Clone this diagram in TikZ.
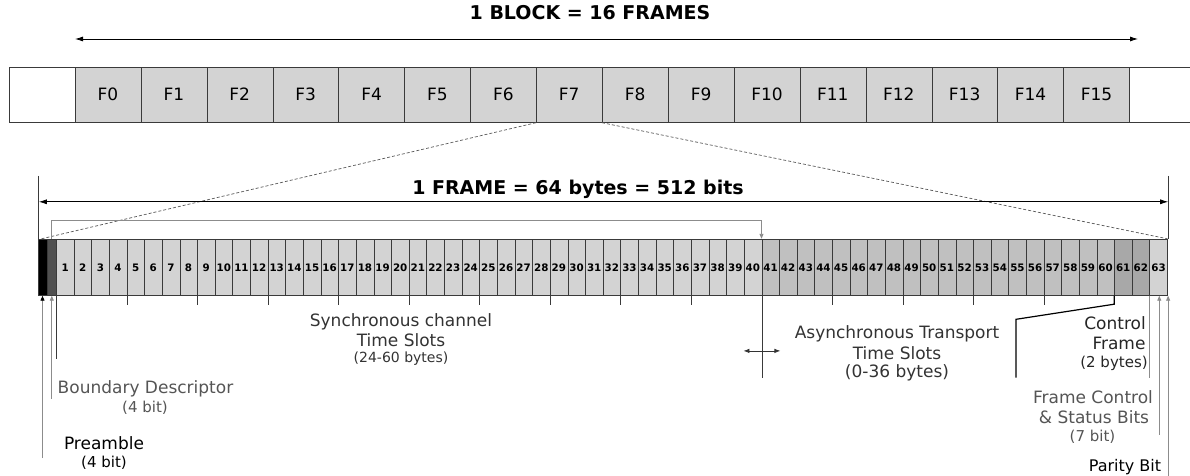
\documentclass[tikz,border=0pt]{standalone}
\usepackage{fontspec}
\setmainfont{DejaVu Sans}
\usetikzlibrary{arrows.meta}
\newcommand{\fsz}[1]{\fontsize{#1}{#1}\selectfont}
\definecolor{cellgray}{HTML}{D3D3D3}
\definecolor{midgray}{HTML}{C0C0C0}
\definecolor{darkcell}{HTML}{A8A8A8}
\definecolor{bdgray}{HTML}{505050}
\definecolor{linegray}{HTML}{8C8C8C}
\definecolor{txtgray}{HTML}{555555}
\definecolor{txtdark}{HTML}{333333}
\definecolor{edge}{HTML}{3A3A3A}
\begin{document}
\begin{tikzpicture}[x=1pt,y=-1pt,
  fcell/.style={draw=edge, fill=cellgray, minimum width=65.9pt, minimum height=55.5pt, inner sep=0pt, font=\fsz{17}, text height=12.4pt, text depth=0pt},
  bcell/.style={draw=edge, minimum width=17.635pt, minimum height=56.5pt, inner sep=0pt, font=\bfseries\fsz{10.3}, text height=7.5pt, text depth=0pt},
  bigarrow/.style={draw=black, line width=0.8pt, {Latex[length=8pt,width=5pt]}-{Latex[length=8pt,width=5pt]}},
  garrow/.style={draw=linegray, line width=0.9pt, -{Triangle[length=5pt,width=4pt]}},
  parrow/.style={draw=linegray, line width=0.9pt, -{Triangle[length=5pt,width=4pt,fill=black,color=black]}},
  gline/.style={draw=linegray, line width=0.9pt},
  bline/.style={draw=edge, line width=0.8pt},
  tick/.style={draw=edge, line width=0.8pt},
  zoomline/.style={draw=black!65, line width=0.7pt, densely dashed},
  lbl/.style={anchor=base, inner sep=0pt, font=\fsz{17}},
  sublbl/.style={anchor=base, inner sep=0pt, font=\fsz{15}},
  titlelbl/.style={anchor=base, inner sep=0pt, font=\bfseries\fsz{19}}
]
\clip (0,0) rectangle (1190,476);
\fill[white] (0,0) rectangle (1190,476);

% ---------- block ----------
\node[titlelbl] (blocktitle) at (590,20) {1 BLOCK = 16 FRAMES};
\coordinate (blockL) at (75,39);
\coordinate (blockR) at (1138,39);
\draw[bigarrow] (blockL) -- (blockR);

\draw[draw=edge, line width=0.9pt] (9,67) rectangle (1200,122.5);
\foreach \i in {0,...,15}{
  \node[fcell] (f\i) at ({75+(\i+0.5)*65.9},94.75) {F\i};
}

% ---------- frame ----------
\node[bcell, fill=black, minimum width=9.6pt] (pre) at (42.5,267.25) {};
\node[bcell, fill=bdgray, minimum width=9pt] (bd) at (51.8,267.25) {};
\foreach \i in {1,...,63}{
  \ifnum\i<41 \def\cc{cellgray}\else\ifnum\i<61 \def\cc{midgray}\else\ifnum\i<63 \def\cc{darkcell}\else\def\cc{cellgray}\fi\fi\fi
  \node[bcell, fill=\cc] (c\i) at ({56.3+(\i-0.5)*17.635},267.25) {\i};
}

% zoom lines
\draw[zoomline] (f7.south west) -- ([xshift=4pt]pre.north west);
\draw[zoomline] (f8.south west) -- (c63.north east);

% frame dimension
\node[titlelbl] (frametitle) at (578,194) {1 FRAME = 64 bytes = 512 bits};
\path (pre.north west) ++(1.3,-63) coordinate (fl);
\path (c63.north east) ++(0.7,-63) coordinate (fr);
\draw[bline] (fl) -- (fl |- pre.north);
\draw[bline] (fr) -- (fr |- c63.north);
\path (fl) ++(0,26) coordinate (fal);
\path (fr) ++(0,26) coordinate (far);
\draw[bigarrow] (fal) -- (far);

% boundary bracket above
\path (bd.north) ++(0,-18) coordinate (g1);
\coordinate (g2) at (g1 -| c41.north west);
\draw[garrow] (bd.north) -- (g1) -- (g2) -- (c41.north west);

% ticks
\foreach \k in {4,8,...,36,44,48,52,56}{
  \draw[tick] (c\k.south east) -- ++(0,9);
}

% sync / async separation
\path (c1.south west) ++(0,63.5) coordinate (syncL);
\draw[bline] (c1.south west) -- (syncL);
\path (c40.south east) ++(0,82.2) coordinate (asyncL);
\draw[bline] (c40.south east) -- (asyncL);
\path (c40.south east) ++(-18.5,55.2) coordinate (dl);
\path (c40.south east) ++(18.5,55.2) coordinate (dr);
\draw[draw=txtdark, line width=0.8pt, {Latex[length=6pt,width=4.5pt]}-{Latex[length=6pt,width=4.5pt]}] (dl) -- (dr);

% control frame bracket
\path (c61.south west) ++(0,8.5) coordinate (cf1);
\coordinate (cf2) at (1016,319.3);
\coordinate (cf3) at (1016,377.7);
\draw[draw=black, line width=1.2pt] (c61.south west) -- (cf1) -- (cf2) -- (cf3);
\path (c63.south west) ++(0,82.5) coordinate (cfR);
\draw[gline] (c63.south west) -- (cfR);

% small arrows
\path (c63.south) ++(0.8,138.8) coordinate (fcs);
\draw[garrow] (fcs) -- (fcs |- c63.south);
\path (c63.south east) ++(0.6,185) coordinate (par);
\draw[garrow] (par) -- (par |- c63.south east);
\path (pre.south) ++(0,162.5) coordinate (preB);
\draw[parrow] (preB) -- (pre.south);
\path (bd.south) ++(0,103) coordinate (bdB);
\draw[garrow] (bdB) -- (bd.south);

% labels
\node[lbl, text=txtdark] (sync1) at (401,326) {Synchronous channel};
\node[lbl, text=txtdark] (sync2) at (401,346) {Time Slots};
\node[anchor=base, inner sep=0pt, font=\fsz{14}, text=txtdark] (sync3) at (401,362) {(24-60 bytes)};

\node[lbl, text=txtdark] (async1) at (897,338.5) {Asynchronous Transport};
\node[lbl, text=txtdark] (async2) at (897,359) {Time Slots};
\node[lbl, text=txtdark] (async3) at (897,377) {(0-36 bytes)};

\node[lbl, text=black!85] (ctl1) at (1115,329) {Control};
\node[lbl, text=black!85] (ctl2) at (1119,349.5) {Frame};
\node[sublbl, text=black!85] (ctl3) at (1114,367) {(2 bytes)};

\node[lbl, text=txtgray] (fcs1) at (1093,403.5) {Frame Control};
\node[lbl, text=txtgray] (fcs2) at (1094,423) {\& Status Bits};
\node[sublbl, text=txtgray] (fcs3) at (1092.5,441) {(7 bit)};

\node[lbl, text=txtgray] (bd1) at (145.5,393) {Boundary Descriptor};
\node[sublbl, text=txtgray] (bd2) at (145,412) {(4 bit)};

\node[lbl, text=black] (pre1) at (104,449) {Preamble};
\node[sublbl, text=black] (pre2) at (104,467) {(4 bit)};

\node[anchor=base, inner sep=0pt, font=\fsz{16}, text=black] (parity) at (1125,471) {Parity Bit};
\end{tikzpicture}
\end{document}
